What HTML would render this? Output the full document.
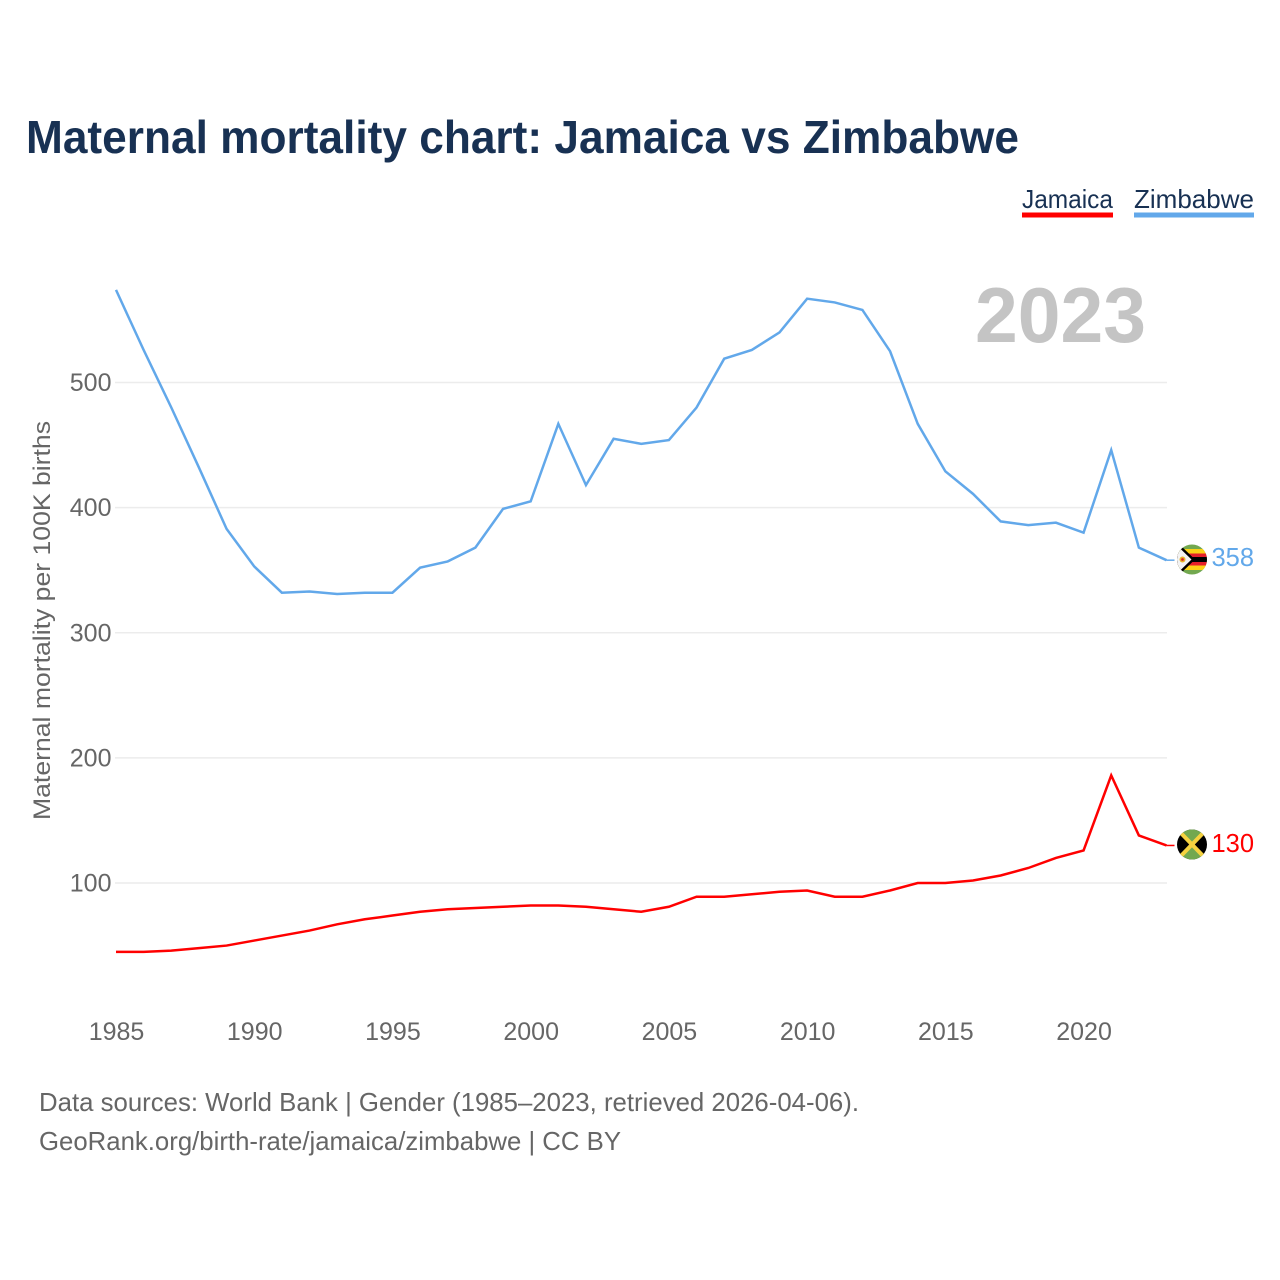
<!DOCTYPE html>
<html lang="en">
<head>
<meta charset="utf-8">
<title>Maternal mortality chart: Jamaica vs Zimbabwe</title>
<style>
html,body{margin:0;padding:0;background:#fff;width:1280px;height:1280px;overflow:hidden}
svg{display:block}
text{font-family:"Liberation Sans",sans-serif}
</style>
</head>
<body>
<svg id="chart" xmlns="http://www.w3.org/2000/svg" width="1280" height="1280" viewBox="0 0 1280 1280">
  <defs>
    <clipPath id="clip-zw"><circle cx="1192" cy="559.5" r="15"/></clipPath>
    <clipPath id="clip-jm"><circle cx="1192" cy="844.5" r="15"/></clipPath>
  </defs>
  <text x="26" y="153" font-size="46" font-weight="700" fill="#183153" textLength="993" lengthAdjust="spacingAndGlyphs">Maternal mortality chart: Jamaica vs Zimbabwe</text>

  <g>
    <text x="1022" y="208" font-size="26" fill="#183153" textLength="91" lengthAdjust="spacingAndGlyphs">Jamaica</text>
    <rect x="1022" y="212.5" width="91" height="5" fill="#ff0000"/>
  </g>
  <g>
    <text x="1134" y="208" font-size="26" fill="#183153" textLength="120" lengthAdjust="spacingAndGlyphs">Zimbabwe</text>
    <rect x="1134" y="212.5" width="120" height="5" fill="#62a8ea"/>
  </g>

  <text x="975" y="342" font-size="78" font-weight="700" fill="#c4c4c4" textLength="171" lengthAdjust="spacingAndGlyphs">2023</text>

  <g id="grid"></g>
  <g id="y-ticks"></g>
  <g id="x-ticks"></g>

  <text transform="translate(50,820) rotate(-90)" font-size="24" fill="#666666" textLength="399" lengthAdjust="spacingAndGlyphs">Maternal mortality per 100K births</text>

  <g id="series"></g>

  <g clip-path="url(#clip-zw)">
    <rect x="1177" y="544" width="30" height="31" fill="#72a84f"/>
    <rect x="1177" y="549" width="30" height="4.5" fill="#fcd116"/>
    <rect x="1177" y="553.5" width="30" height="3.5" fill="#e5202b"/>
    <rect x="1177" y="557" width="30" height="5" fill="#000000"/>
    <rect x="1177" y="562" width="30" height="3.5" fill="#e5202b"/>
    <rect x="1177" y="565.5" width="30" height="4.5" fill="#fcd116"/>
    <polygon points="1177,542 1195,559.5 1177,577" fill="#000000"/>
    <polygon points="1177,545.5 1191.5,559.5 1177,573.5" fill="#f3f3f3"/>
    <circle cx="1182.5" cy="559.5" r="3" fill="#e8b52a"/>
    <circle cx="1182.5" cy="559.5" r="1.4" fill="#d8232a"/>
  </g>
  <g clip-path="url(#clip-jm)">
    <rect x="1177" y="829" width="30" height="31" fill="#000000"/>
    <polygon points="1177,829 1207,829 1192,844.5" fill="#72a84f"/>
    <polygon points="1177,860 1207,860 1192,844.5" fill="#72a84f"/>
    <line x1="1177" y1="829" x2="1207" y2="860" stroke="#f5d240" stroke-width="4"/>
    <line x1="1207" y1="829" x2="1177" y2="860" stroke="#f5d240" stroke-width="4"/>
  </g>

  <text id="end-zw" x="1254" y="566" font-size="25.5" fill="#62a8ea" text-anchor="end"></text>
  <text id="end-jm" x="1254" y="852" font-size="25.5" fill="#ff0000" text-anchor="end"></text>

  <text x="39" y="1111" font-size="26" fill="#666666" textLength="820" lengthAdjust="spacingAndGlyphs">Data sources: World Bank | Gender (1985–2023, retrieved 2026-04-06).</text>
  <text x="39" y="1150" font-size="26" fill="#666666" textLength="582" lengthAdjust="spacingAndGlyphs">GeoRank.org/birth-rate/jamaica/zimbabwe | CC BY</text>
</svg>
<script>
const years = [1985,1986,1987,1988,1989,1990,1991,1992,1993,1994,1995,1996,1997,1998,1999,2000,2001,2002,2003,2004,2005,2006,2007,2008,2009,2010,2011,2012,2013,2014,2015,2016,2017,2018,2019,2020,2021,2022,2023];
const zimbabwe = [574,526,480,432,383,353,332,333,331,332,332,352,357,368,399,405,467,418,455,451,454,480,519,526,540,567,564,558,525,467,429,411,389,386,388,380,446,368,358];
const jamaica = [45,45,46,48,50,54,58,62,67,71,74,77,79,80,81,82,82,81,79,77,81,89,89,91,93,94,89,89,94,100,100,102,106,112,120,126,186,138,130];
const yTickValues = [100,200,300,400,500];
const xTickValues = [1985,1990,1995,2000,2005,2010,2015,2020];

const NS = 'http://www.w3.org/2000/svg';
function xScale(year){ return 116 + (year - 1985) * 27.645; }
function yScale(v){ return 883 - (v - 100) * (883 - 382.5) / 400; }

const grid = document.getElementById('grid');
const yTicks = document.getElementById('y-ticks');
const xTicks = document.getElementById('x-ticks');
const series = document.getElementById('series');

yTickValues.forEach(function(v){
  const line = document.createElementNS(NS,'line');
  
  
  line.setAttribute('x1', 115);
  line.setAttribute('x2', 1167);
  line.setAttribute('y1', yScale(v));
  line.setAttribute('y2', yScale(v));
  line.setAttribute('stroke', '#ececec');
  line.setAttribute('stroke-width', '1.5');
  grid.appendChild(line);
  const t = document.createElementNS(NS,'text');
  
  
  t.setAttribute('x', 111.5);
  t.setAttribute('y', yScale(v) + 8.5);
  t.setAttribute('text-anchor', 'end');
  t.setAttribute('font-size', '25');
  t.setAttribute('fill', '#666666');
  t.textContent = v;
  yTicks.appendChild(t);
});

xTickValues.forEach(function(y){
  const t = document.createElementNS(NS,'text');
  
  
  t.setAttribute('x', xScale(y) + 0.5);
  t.setAttribute('y', 1040);
  t.setAttribute('text-anchor', 'middle');
  t.setAttribute('font-size', '25');
  t.setAttribute('fill', '#666666');
  t.textContent = y;
  xTicks.appendChild(t);
});

function pathFor(values){
  return values.map(function(v,i){
    return (i ? 'L' : 'M') + xScale(years[i]).toFixed(2) + ' ' + yScale(v).toFixed(2);
  }).join(' ');
}

const lineZw = document.createElementNS(NS,'path');


lineZw.setAttribute('d', pathFor(zimbabwe));
lineZw.setAttribute('fill', 'none');
lineZw.setAttribute('stroke', '#62a8ea');
lineZw.setAttribute('stroke-width', '2.5');
series.appendChild(lineZw);

const lineJm = document.createElementNS(NS,'path');


lineJm.setAttribute('d', pathFor(jamaica));
lineJm.setAttribute('fill', 'none');
lineJm.setAttribute('stroke', '#ff0000');
lineJm.setAttribute('stroke-width', '2.5');
series.appendChild(lineJm);

const lastX = xScale(years[years.length - 1]);

const leadZw = document.createElementNS(NS,'line');


leadZw.setAttribute('x1', lastX);
leadZw.setAttribute('x2', lastX + 8);
leadZw.setAttribute('y1', yScale(zimbabwe[zimbabwe.length - 1]));
leadZw.setAttribute('y2', yScale(zimbabwe[zimbabwe.length - 1]));
leadZw.setAttribute('stroke', '#62a8ea');
leadZw.setAttribute('stroke-width', '1.5');
series.appendChild(leadZw);

const leadJm = document.createElementNS(NS,'line');


leadJm.setAttribute('x1', lastX);
leadJm.setAttribute('x2', lastX + 8);
leadJm.setAttribute('y1', yScale(jamaica[jamaica.length - 1]));
leadJm.setAttribute('y2', yScale(jamaica[jamaica.length - 1]));
leadJm.setAttribute('stroke', '#ff0000');
leadJm.setAttribute('stroke-width', '1.5');
series.appendChild(leadJm);

document.getElementById('end-zw').textContent = zimbabwe[zimbabwe.length - 1];
document.getElementById('end-jm').textContent = jamaica[jamaica.length - 1];
</script>
</body>
</html>
